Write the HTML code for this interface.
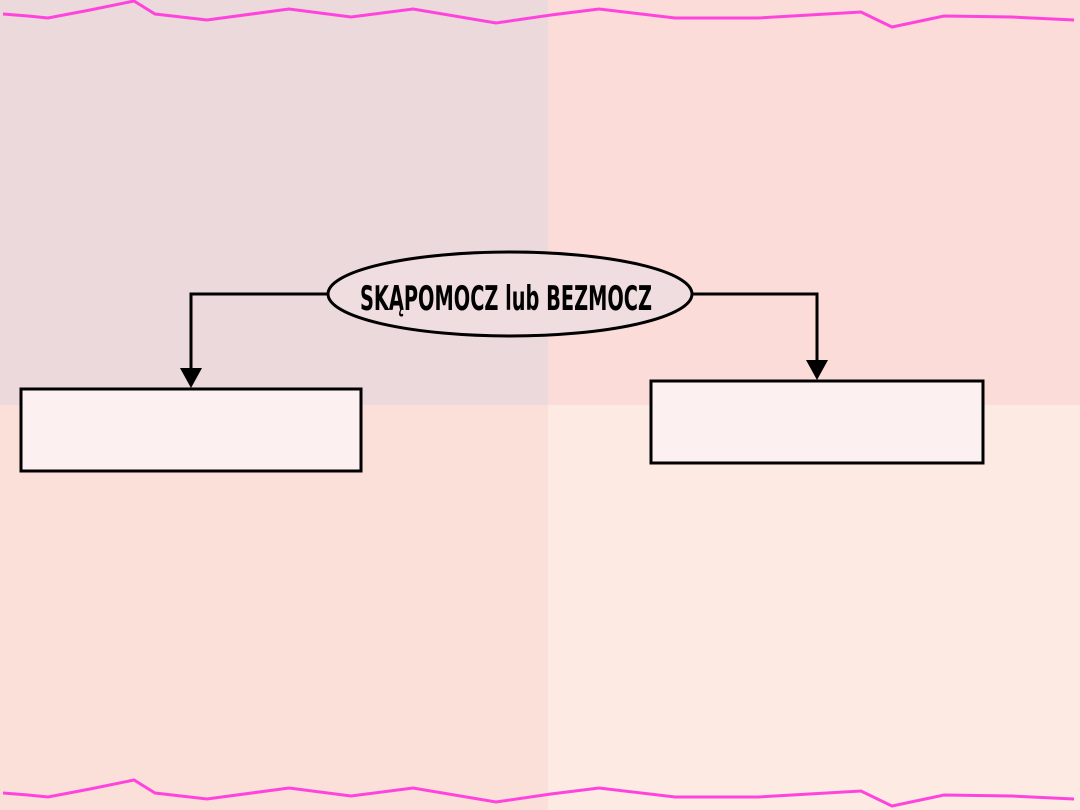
<!DOCTYPE html>
<html><head><style>body{margin:0}svg{display:block}</style></head><body>
<svg width="1080" height="810" viewBox="0 0 1080 810" xmlns="http://www.w3.org/2000/svg">
<rect x="0" y="0" width="548" height="405" fill="#ecd9db"/>
<rect x="548" y="0" width="532" height="405" fill="#fbdcd8"/>
<rect x="0" y="405" width="548" height="405" fill="#fbe0da"/>
<rect x="548" y="405" width="532" height="405" fill="#fdebe3"/>
<g fill="none" stroke="#ff44dd" stroke-width="3">
<polyline points="3,14 28,16 48,18 90,10 134,1 155,14 207,20 289,9 351,17 413,9 496,23 551,15 599,9 675,18 758,18 861,12 892,27 944,16 1012,17 1074,20"/>
<polyline transform="translate(0,779)" points="3,14 28,16 48,18 90,10 134,1 155,14 207,20 289,9 351,17 413,9 496,23 551,15 599,9 675,18 758,18 861,12 892,27 944,16 1012,17 1074,20"/>
</g>
<rect x="21" y="389" width="340" height="82" fill="#fdf0f0" stroke="#000" stroke-width="3"/>
<rect x="651" y="381" width="332" height="82" fill="#fdf0f0" stroke="#000" stroke-width="3"/>
<g stroke="#000" stroke-width="3" fill="none">
<polyline points="328,294 191,294 191,372"/>
<polyline points="692,294 817,294 817,364"/>
</g>
<polygon points="180,368 202,368 191,388" fill="#000"/>
<polygon points="806,360 828,360 817,380" fill="#000"/>
<ellipse cx="510" cy="294" rx="182" ry="42" fill="#f0dde0" stroke="#000" stroke-width="3"/>
<text x="506" y="310" text-anchor="middle" font-family="DejaVu Sans, Liberation Sans, sans-serif" font-weight="bold" font-size="34" textLength="292" lengthAdjust="spacingAndGlyphs" fill="#000">SKĄPOMOCZ lub BEZMOCZ</text>
</svg>
</body></html>
